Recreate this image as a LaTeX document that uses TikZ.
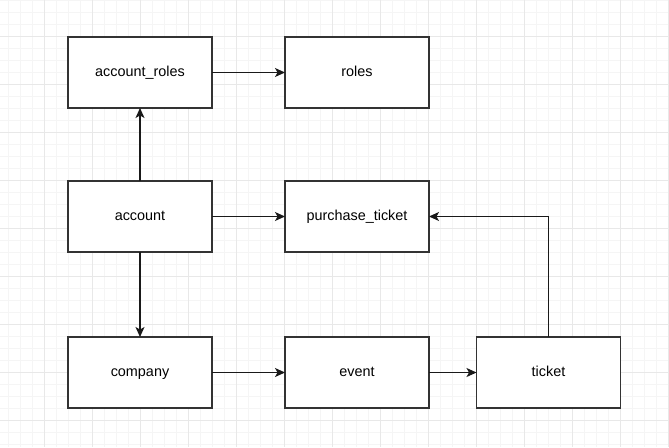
\documentclass[tikz,border=0pt]{standalone}
\usepackage{fontspec}
\setmainfont{Liberation Sans}
\usetikzlibrary{positioning, arrows.meta}

\begin{document}
\begin{tikzpicture}[
    x=1pt, y=1pt,
    node distance=73pt and 73pt,
    % Define styles
    entity/.style={rectangle, draw=black!80, line width=1.3pt, outer sep=0pt, fill=white, minimum width=144pt, minimum height=71pt, text height=10.5pt, text depth=3pt, font=\fontsize{14.4}{17}\selectfont},
    arrow/.style={-{Stealth[length=10pt, width=9pt, inset=2.5pt]}, line width=1.2pt, black!90},
    minorgrid/.style={draw=black!4, line width=0.6pt},
    majorgrid/.style={draw=black!9, line width=0.8pt}
]

    % --- BACKGROUND GRID ---
    \useasboundingbox (0,0) rectangle (669,-447);
    \fill[white] (0,0) rectangle (669,-447);
    \foreach \gx in {8,20,...,668} \draw[minorgrid] (\gx,0) -- (\gx,-447);
    \foreach \gy in {0,12,...,444} \draw[minorgrid] (0,-\gy) -- (669,-\gy);
    \foreach \gx in {44,92,...,668} \draw[majorgrid] (\gx,0) -- (\gx,-447);
    \foreach \gy in {36,84,...,444} \draw[majorgrid] (0,-\gy) -- (669,-\gy);

    % --- TOP ROW ---
    \node (account_roles) [entity] at (140,-72.5) {account\_roles};
    \node (roles) [entity, right=of account_roles] {roles};

    % --- MIDDLE ROW ---
    \node (account) [entity, below=of account_roles] {account};
    \node (purchase_ticket) [entity, right=of account] {purchase\_ticket};

    % --- BOTTOM ROW ---
    \node (company) [entity, below=85pt of account] {company};
    \node (event) [entity, right=of company] {event};
    \node (ticket) [entity, right=47.5pt of event] {ticket};

    % --- DRAW CONNECTIONS ---
    \draw [arrow] (account_roles) -- (roles);
    \draw [arrow] (account) -- (account_roles);
    \draw [arrow] (account) -- (purchase_ticket);
    \draw [arrow] (account) -- (company);
    \draw [arrow] (company) -- (event);
    \draw [arrow] (event) -- (ticket);

    % Return path from ticket up to purchase_ticket
    \draw [arrow] (ticket.north) |- (purchase_ticket.east);

\end{tikzpicture}
\end{document}
